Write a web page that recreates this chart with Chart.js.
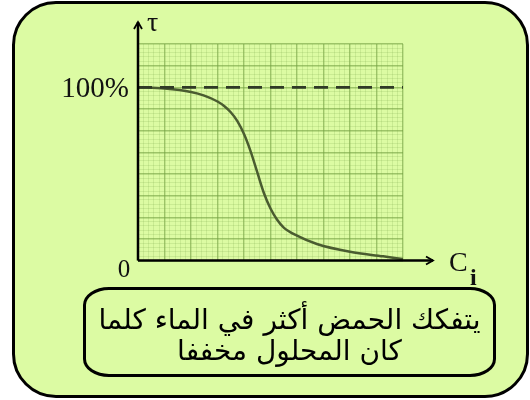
<!DOCTYPE html>
<html lang="ar">
<head>
<meta charset="utf-8">
<script src="https://cdn.jsdelivr.net/npm/chart.js@4"></script>
<style>
  html, body { margin: 0; padding: 0; background: #fff; width: 530px; height: 400px; overflow: hidden; }
  .card {
    position: absolute; left: 12px; top: 1px; width: 517px; height: 397px;
    box-sizing: border-box; border: 3px solid #000; border-radius: 44px; background: #dcfba3;
  }
  #chart { position: absolute; left: 0; top: 0; }
  .note {
    position: absolute; left: 83px; top: 287px; width: 413px; height: 90px;
    box-sizing: border-box; border: 3px solid #000; border-radius: 26px / 18px;
    direction: rtl; text-align: center; color: #000;
    font-family: "DejaVu Sans", sans-serif; font-size: 28px; line-height: 31px; padding-top: 14px;
  }
</style>
</head>
<body>
<div class="card"></div>
<canvas id="chart" width="530" height="400"></canvas>
<div class="note">يتفكك الحمض أكثر في الماء كلما<br>كان المحلول مخففا</div>

<script>
// values (x in grid cells, y in %)
const concentration = [0, 1, 2, 2.5, 3, 3.25, 3.5, 3.75, 4, 4.25, 4.5, 4.75, 5, 5.25, 5.5, 6, 6.75, 8, 9.25, 10];
const dissociation = [100, 99.3, 97.3, 95.2, 91.8, 89.2, 85.6, 80.5, 73, 63, 51, 39, 30, 23.5, 19, 14.3, 9.5, 5, 2.4, 0.8];
const fullLineX = [0, 10];
const fullLineY = [100, 100];
const xMax = 10;
const yMax = 125;
const yTickLabels = ['0', '100%'];
const yAxisLabel = 'τ';
const xAxisLabel = 'C';
const xAxisSub = 'i';

const curve = concentration.map((x, i) => ({ x: x, y: dissociation[i] }));
const fullLine = fullLineX.map((x, i) => ({ x: x, y: fullLineY[i] }));

function arrowHead(ctx, x, y, dir) {
  ctx.beginPath();
  if (dir === 'up') {
    ctx.moveTo(x - 4, y + 7); ctx.lineTo(x, y); ctx.lineTo(x + 4, y + 7);
  } else {
    ctx.moveTo(x - 7, y - 4); ctx.lineTo(x, y); ctx.lineTo(x - 7, y + 4);
  }
  ctx.stroke();
}

const axesPlugin = {
  id: 'axes',
  afterDraw(chart) {
    const ctx = chart.ctx;
    const xs = chart.scales.x, ys = chart.scales.y;
    const x0 = xs.getPixelForValue(0);
    const y0 = ys.getPixelForValue(0);
    const y100 = ys.getPixelForValue(100);
    ctx.save();
    ctx.strokeStyle = '#000';
    ctx.lineWidth = 2.5;
    ctx.beginPath();
    ctx.moveTo(x0, y0); ctx.lineTo(x0, 22);
    ctx.moveTo(x0, y0); ctx.lineTo(433, y0);
    ctx.stroke();
    ctx.lineWidth = 1.8;
    arrowHead(ctx, x0, 22, 'up');
    arrowHead(ctx, 433, y0, 'right');

    ctx.fillStyle = '#111';
    ctx.textBaseline = 'alphabetic';
    ctx.font = '28px "Liberation Serif", serif';
    ctx.textAlign = 'left';
    ctx.fillText(yAxisLabel, 147, 31);
    ctx.font = '29px "Liberation Serif", serif';
    ctx.textAlign = 'right';
    ctx.fillText(yTickLabels[1], 129, y100 + 10);
    ctx.font = '25px "Liberation Serif", serif';
    ctx.textAlign = 'center';
    ctx.fillText(yTickLabels[0], 124, y0 + 16);
    ctx.textAlign = 'left';
    ctx.font = '28px "Liberation Serif", serif';
    ctx.fillText(xAxisLabel, 449, y0 + 10);
    ctx.font = 'bold 24px "Liberation Serif", serif';
    ctx.fillText(xAxisSub, 470, y0 + 24);
    ctx.restore();
  }
};

const gridColor = c => (c.index % 5 === 0 ? 'rgba(115,160,65,0.6)' : 'rgba(130,175,80,0.3)');
const gridWidth = c => (c.index % 5 === 0 ? 1.4 : 0.7);

new Chart(document.getElementById('chart'), {
  type: 'line',
  data: {
    datasets: [
      {
        data: fullLine,
        borderColor: '#2f3a26',
        borderWidth: 2.8,
        borderDash: [14, 8],
        pointRadius: 0
      },
      {
        data: curve,
        borderColor: '#4a5c30',
        borderWidth: 2.5,
        cubicInterpolationMode: 'monotone',
        pointRadius: 0
      }
    ]
  },
  options: {
    responsive: false,
    animation: false,
    layout: { padding: { left: 138, right: 127, top: 44, bottom: 139.5 } },
    plugins: { legend: { display: false }, tooltip: { enabled: false } },
    scales: {
      x: {
        type: 'linear', min: 0, max: xMax,
        ticks: { display: false, stepSize: 0.2 },
        grid: { color: gridColor, lineWidth: gridWidth, drawTicks: false },
        border: { display: false }
      },
      y: {
        min: 0, max: yMax,
        ticks: { display: false, stepSize: 2.5 },
        grid: { color: gridColor, lineWidth: gridWidth, drawTicks: false },
        border: { display: false }
      }
    }
  },
  plugins: [axesPlugin]
});
</script>
</body>
</html>
